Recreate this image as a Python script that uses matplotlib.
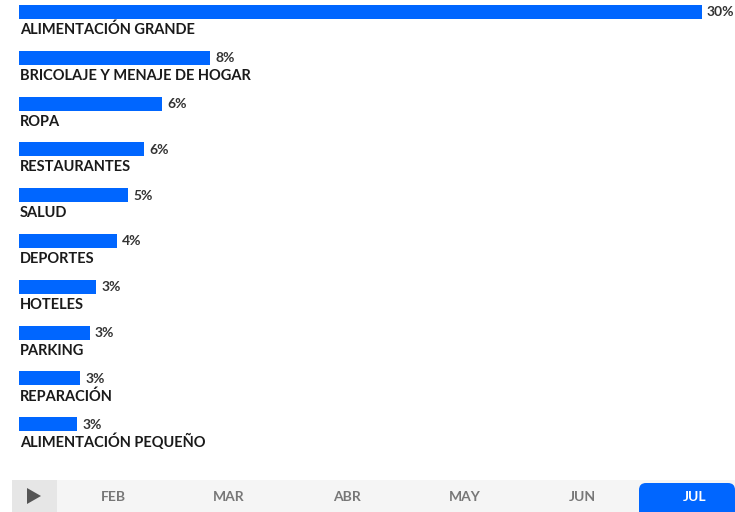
import matplotlib.pyplot as plt
from matplotlib.patches import Rectangle, FancyBboxPatch, Polygon

categorias = ["ALIMENTACIÓN GRANDE", "BRICOLAJE Y MENAJE DE HOGAR", "ROPA",
              "RESTAURANTES", "SALUD", "DEPORTES", "HOTELES", "PARKING",
              "REPARACIÓN", "ALIMENTACIÓN PEQUEÑO"]
valores = [30.0, 8.4, 6.3, 5.5, 4.8, 4.3, 3.4, 3.1, 2.7, 2.55]
etiquetas = ["30%", "8%", "6%", "6%", "5%", "4%", "3%", "3%", "3%", "3%"]
meses = ["FEB", "MAR", "ABR", "MAY", "JUN", "JUL"]
mes_activo = "JUL"

W, H = 735, 512
azul = "#0066ff"
fuente = "Lato"

fig = plt.figure(figsize=(W / 100, H / 100), dpi=100)

# eje de barras: x en %, y por indice de fila
ax = fig.add_axes([19 / W, 1 - 458 / H, 683 / W, 458 / H])
ax.set_xlim(0, 30)
paso = 45.8
ax.set_ylim(9 + (458 - 12 - 9 * paso) / paso, -12 / paso)
ax.axis("off")

alto = 14 / paso
ax.barh(range(len(valores)), valores, height=alto, color=azul)

px = 30 / 683  # un pixel en unidades de %
for i in range(len(categorias)):
    ax.text(valores[i] + 5 * px, i + 0.5 / paso, etiquetas[i], fontsize=10,
            family=fuente, weight="bold", color="#333333", va="center",
            ha="left", clip_on=False)
    ax.text(1 * px, i + 18 / paso, categorias[i], fontsize=10.5,
            family=fuente, weight="bold", color="#1a1a1a", va="center",
            ha="left", clip_on=False)

# barra de tiempo abajo
tl = fig.add_axes([0, 0, 1, 32 / H])
tl.set_xlim(0, W)
tl.set_ylim(0, 32)
tl.axis("off")
tl.add_patch(Rectangle((12, 0), W - 12, 32, color="#f5f5f5", lw=0))
tl.add_patch(Rectangle((12, 0), 45, 32, color="#e6e6e6", lw=0))
tl.add_patch(Polygon([[27, 8], [27, 24], [41, 16]], closed=True,
                     color="#555555", lw=0))

centros = [113, 229, 347, 465, 582, 695]
for m, c in zip(meses, centros):
    color = "#777777"
    if m == mes_activo:
        tl.add_patch(FancyBboxPatch((639, -10), 96, 39,
                                    boxstyle="round,pad=0,rounding_size=7",
                                    color=azul, lw=0, clip_on=True))
        color = "white"
    tl.text(c, 15, m, fontsize=10, family=fuente, weight="bold",
            color=color, ha="center", va="center")

fig.savefig("out.png", dpi=100)
